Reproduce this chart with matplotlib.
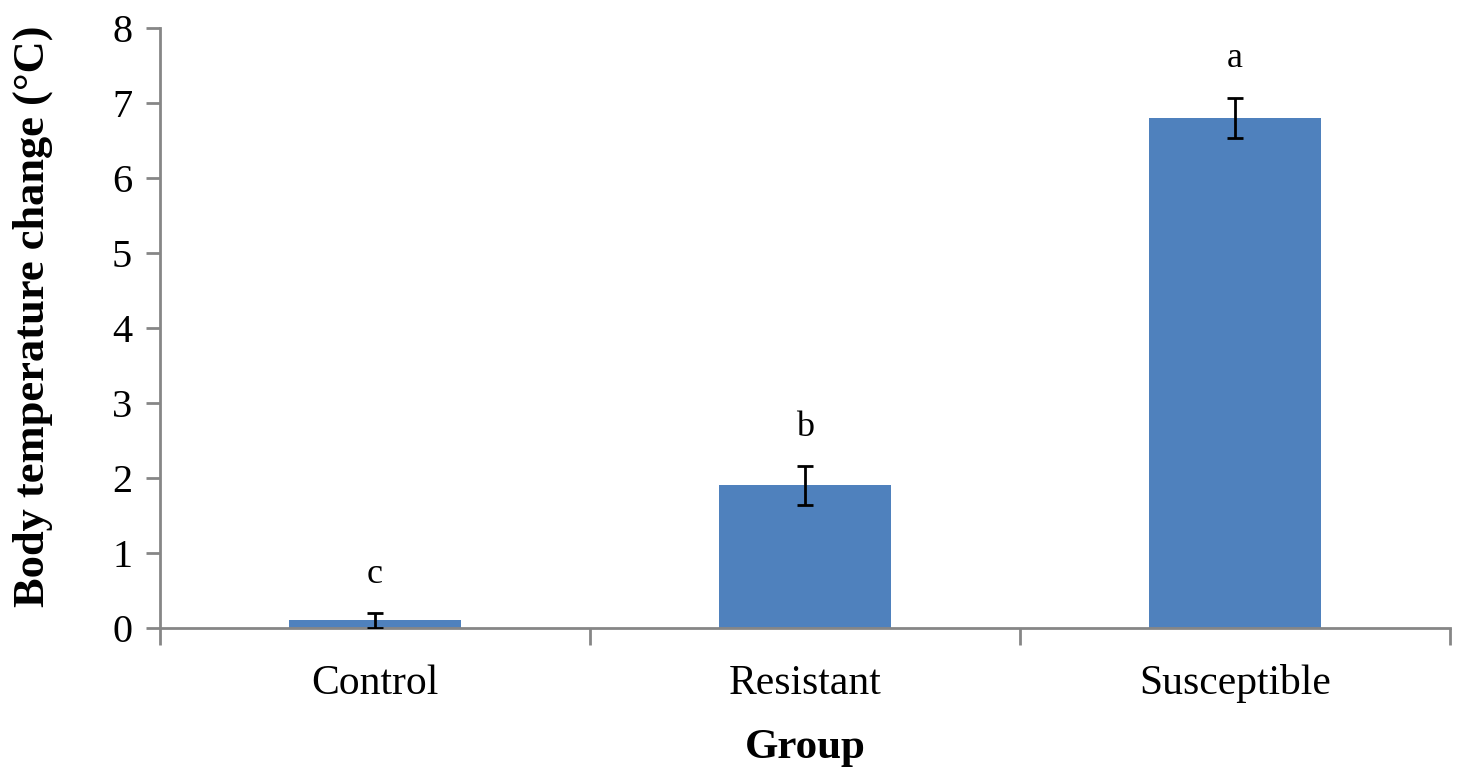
import numpy as np
import matplotlib.pyplot as plt

# data
groups = ['Control', 'Resistant', 'Susceptible']
means = [0.10, 1.90, 6.80]
errs = [0.10, 0.26, 0.27]
letters = ['c', 'b', 'a']

plt.rcParams['font.family'] = ['Liberation Serif', 'DejaVu Serif']

fig = plt.figure(figsize=(14.6, 7.71), dpi=100)
ax = fig.add_axes([0.1096, 0.1855, 0.8834, 0.7782])

x = np.arange(len(groups))
ax.bar(x, means, width=0.4, color='#4F81BD', zorder=2)
ax.errorbar(x, means, yerr=errs, fmt='none', ecolor='black',
            elinewidth=2, capsize=5.5, capthick=2, zorder=3)

for xi, m, e, lab in zip(x, means, errs, letters):
    ax.annotate(lab, (xi, m + e), xytext=(0, 28), textcoords='offset points',
                ha='center', va='center', fontsize=26)

ax.set_xlim(-0.5, len(groups) - 0.5)
ax.set_ylim(0, 8)
ax.set_yticks(range(0, 9))
ax.tick_params(axis='y', labelsize=29, length=10, width=2, color='#868686',
               direction='out', pad=10)

# category labels between boundary ticks, like Excel
ax.set_xticks(np.arange(-0.5, len(groups), 1.0))
ax.set_xticklabels([])
ax.set_xticks(x, minor=True)
ax.set_xticklabels(groups, minor=True, fontsize=30)
ax.tick_params(axis='x', which='major', length=12, width=2, color='#868686', direction='out')
ax.tick_params(axis='x', which='minor', length=0, pad=26)

for s in ['top', 'right']:
    ax.spines[s].set_visible(False)
for s in ['left', 'bottom']:
    ax.spines[s].set_color('#868686')
    ax.spines[s].set_linewidth(2)

ax.set_ylabel('Body temperature change (°C)', fontsize=32, fontweight='bold')
ax.yaxis.set_label_coords(-0.083, 0.52)
ax.set_xlabel('Group', fontsize=31, fontweight='bold')
ax.xaxis.set_label_coords(0.5, -0.168)

fig.savefig('out.png', dpi=100)
